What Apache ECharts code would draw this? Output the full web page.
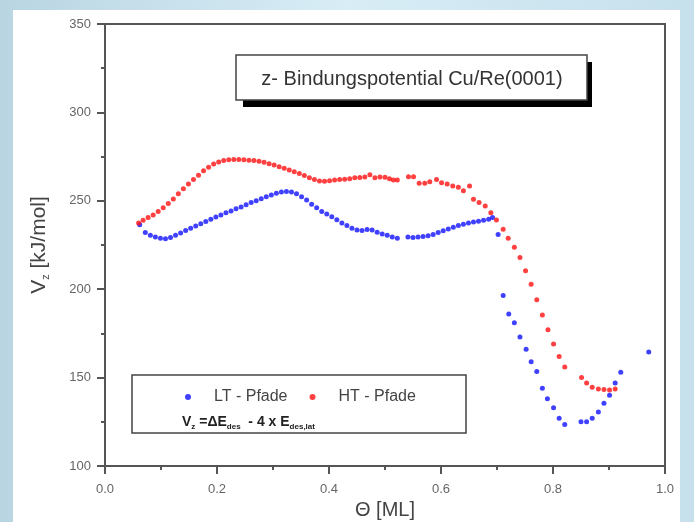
<!DOCTYPE html>
<html>
<head>
<meta charset="utf-8">
<script src="https://cdn.jsdelivr.net/npm/echarts@6/dist/echarts.min.js"></script>
<style>html,body{margin:0;padding:0;background:#cfe4ee;}#c{width:694px;height:522px;}</style>
</head>
<body>
<div id="c"></div>
<script>
const xTicks = [0.0, 0.2, 0.4, 0.6, 0.8, 1.0];
const yTicks = [100, 150, 200, 250, 300, 350];
const seriesNames = ['LT - Pfade', 'HT - Pfade'];
const chartTitle = 'z- Bindungspotential Cu/Re(0001)';

const ltX = [0.062,0.072,0.081,0.090,0.099,0.108,0.117,0.126,0.135,0.144,0.153,0.162,0.171,0.180,0.189,0.198,0.207,0.216,0.225,0.234,0.243,0.252,0.261,0.270,0.279,0.288,0.297,0.306,0.315,0.324,0.333,0.342,0.351,0.360,0.369,0.378,0.387,0.396,0.405,0.414,0.423,0.432,0.441,0.450,0.459,0.468,0.477,0.486,0.495,0.504,0.513,0.522,
  0.541,0.550,0.559,0.568,0.577,0.586,0.595,0.604,0.613,0.622,0.631,0.640,0.649,0.658,0.667,0.676,0.685,0.692,0.702,0.711,0.721,0.731,0.741,0.752,0.761,0.771,0.781,0.790,0.801,0.811,0.821,0.850,0.860,0.870,0.881,0.891,0.901,0.911,0.921,0.971];
const ltY = [236.5,232,230.5,229.5,228.8,228.5,229.2,230.5,231.8,233.2,234.5,235.8,237,238.3,239.5,240.8,242,243.2,244.3,245.5,246.5,247.8,249,250,251.2,252.3,253.3,254.3,255,255.3,255,254,252.3,250.5,248,246,244,242.5,241,239.3,237.5,236,234.5,233.5,233.2,233.8,233.5,232.2,231.2,230.5,229.5,228.8,
  229.5,229.2,229.5,229.8,230.3,231,232,233,234,235,236,236.8,237.5,238,238.5,239,239.5,240.5,231,196.5,186,181,173,166,159,153.5,144,138,133,127,123.5,125,125,127,130.5,135.5,140,147,153,164.5];

const htX = [0.060,0.068,0.077,0.086,0.095,0.104,0.113,0.122,0.131,0.140,0.149,0.158,0.167,0.176,0.185,0.194,0.203,0.212,0.221,0.230,0.239,0.248,0.257,0.266,0.275,0.284,0.293,0.302,0.311,0.320,0.329,0.338,0.347,0.356,0.365,0.374,0.383,0.392,0.401,0.410,0.419,0.428,0.437,0.446,0.455,0.464,0.473,0.482,0.491,0.500,0.508,0.515,0.522,
  0.542,0.551,0.561,0.571,0.580,0.592,0.601,0.611,0.621,0.631,0.640,0.651,0.658,0.668,0.679,0.689,0.699,0.711,0.720,0.731,0.741,0.751,0.761,0.771,0.781,0.791,0.801,0.811,0.821,0.851,0.860,0.870,0.881,0.891,0.901,0.911];
const htY = [237.5,239,240.5,242,244,246,248.5,251,254,256.8,259.5,262,264.5,267,269,270.8,272,272.8,273.2,273.3,273.3,273.2,273,272.8,272.4,271.8,271,270.2,269.3,268.4,267.4,266.4,265.4,264.3,263,262,261.2,261,261.3,261.8,262,262.2,262.5,263,263.2,263.5,264.8,263,263.5,263.3,262.5,261.8,261.8,
  263.6,263.6,259.9,259.9,260.8,262,260.2,259.5,258.4,257.6,255.7,258.4,250.9,249,247.1,243.3,239.1,233.9,228.8,223.7,218,210.5,202.8,194,185.4,177,169,162,156,150,147,144.5,143.5,143.3,143,143.5];

const ltData = ltX.map((x, i) => [x, ltY[i]]);
const htData = htX.map((x, i) => [x, htY[i]]);

const chart = echarts.init(document.getElementById('c'));
const axisCol = '#555';
const font = 'Liberation Sans, Arial, sans-serif';

chart.setOption({
  backgroundColor: {
    type: 'linear', x: 0, y: 0, x2: 1, y2: 0,
    colorStops: [{offset: 0, color: '#b9d5e2'}, {offset: 0.5, color: '#d8edf6'}, {offset: 1, color: '#c6e0ec'}]
  },
  animation: false,
  textStyle: {fontFamily: font},
  grid: {left: 105, right: 29, top: 24, bottom: 56, containLabel: false, outerBoundsMode: 'none',
    show: true, borderColor: axisCol, borderWidth: 2, backgroundColor: '#fff'},
  graphic: [
    {type: 'rect', z: -10, silent: true, shape: {x: 13, y: 10, width: 667, height: 512}, style: {fill: '#ffffff'}},
    {type: 'rect', z: 10, shape: {x: 243, y: 62, width: 349, height: 45}, style: {fill: '#000'}},
    {type: 'rect', z: 11, shape: {x: 236, y: 55, width: 351, height: 45}, style: {fill: '#fff', stroke: '#444', lineWidth: 1.5}},
    {type: 'text', z: 12, x: 412, y: 79, style: {text: chartTitle, font: '20px ' + font, fill: '#333', textAlign: 'center', textVerticalAlign: 'middle'}},
    {type: 'rect', z: 10, shape: {x: 132, y: 375, width: 334, height: 58}, style: {fill: '#fff', stroke: '#444', lineWidth: 1.5}},
    {type: 'text', z: 12, x: 182, y: 413, style: {
      text: '{b|V}{s|z}{b| =ΔE}{s|des}{b|  - 4 x E}{s|des,lat}',
      rich: {
        b: {fontSize: 14, fontWeight: 'bold', fill: '#222', fontFamily: font},
        s: {fontSize: 8, fontWeight: 'bold', fill: '#222', fontFamily: font, padding: [10, 0, 0, 0]}
      }
    }}
  ],
  legend: {
    z: 12,
    left: 180, top: 384,
    icon: 'circle', itemWidth: 6, itemHeight: 6, itemGap: 22,
    data: seriesNames,
    textStyle: {fontSize: 16, color: '#444', fontFamily: font, padding: [0, 0, 0, 18]}
  },
  xAxis: {
    type: 'value', min: 0, max: 1, interval: 0.2,
    name: 'Θ [ML]', nameLocation: 'middle', nameGap: 33,
    nameTextStyle: {fontSize: 20, color: '#444', fontFamily: font},
    axisLine: {show: true, onZero: false, lineStyle: {color: axisCol, width: 2}},
    axisTick: {show: true, inside: false, length: 8, lineStyle: {color: axisCol, width: 2}},
    minorTick: {show: true, splitNumber: 2, length: 4, lineStyle: {color: axisCol, width: 2}},
    splitLine: {show: false},
    axisLabel: {margin: 17, fontSize: 13, color: '#666', fontFamily: font, formatter: v => v.toFixed(1)}
  },
  yAxis: {
    type: 'value', min: 100, max: 350, interval: 50,
    name: '{a|V}{s|z}{a| [kJ/mol]}', nameLocation: 'middle', nameGap: 54,
    nameTextStyle: {
      fontFamily: font,
      rich: {
        a: {fontSize: 21, color: '#444', fontFamily: font},
        s: {fontSize: 11, color: '#444', fontFamily: font, padding: [12, 0, 0, 0]}
      }
    },
    axisLine: {show: true, onZero: false, lineStyle: {color: axisCol, width: 2}},
    axisTick: {show: true, inside: false, length: 8, lineStyle: {color: axisCol, width: 2}},
    minorTick: {show: true, splitNumber: 2, length: 4, lineStyle: {color: axisCol, width: 2}},
    splitLine: {show: false},
    axisLabel: {margin: 14, fontSize: 13, color: '#666', fontFamily: font}
  },
  series: [
    {name: seriesNames[0], type: 'scatter', data: ltData, symbol: 'circle', symbolSize: 5, itemStyle: {color: '#1010ff'}},
    {name: seriesNames[1], type: 'scatter', data: htData, symbol: 'circle', symbolSize: 5, itemStyle: {color: '#ff1010'}}
  ]
});
</script>
</body>
</html>
